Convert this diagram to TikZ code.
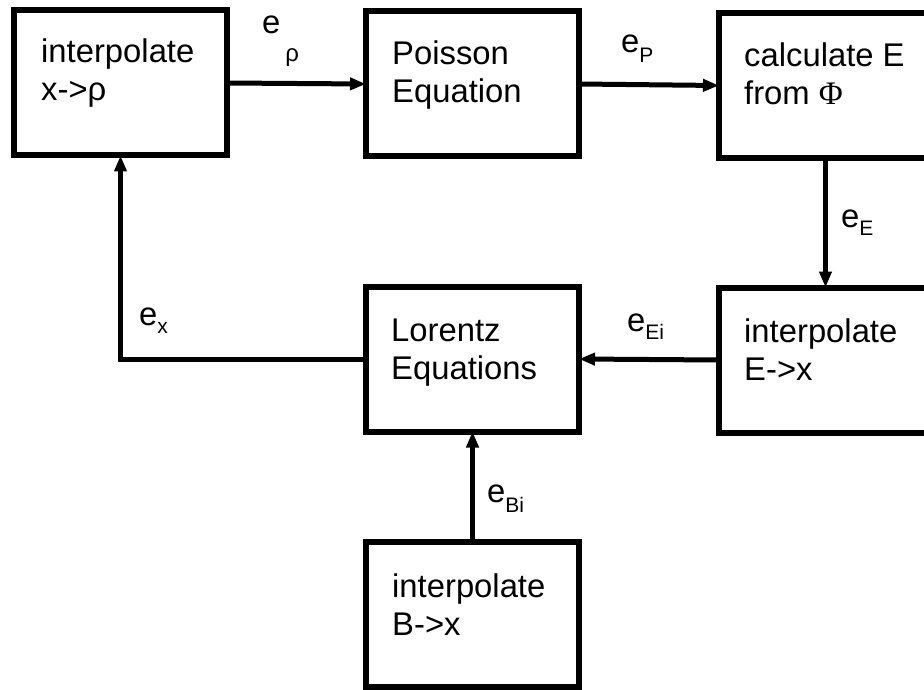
\documentclass[tikz,border=0pt]{standalone}
\usepackage{fontspec}
\setmainfont{Liberation Sans}
\newfontfamily\phifont{Liberation Serif}
\usetikzlibrary{arrows.meta,calc}
% two left-aligned lines whose baseline is that of the first line
\newcommand\twolines[2]{\begin{tabular}[t]{@{}l@{}}#1\\#2\end{tabular}}
% error symbol e with a lowered small subscript
\newcommand\esub[4][0pt]{e\hspace{#1}\raisebox{-#2}{\fontsize{#3}{#3}\selectfont #4}}
\begin{document}
\begin{tikzpicture}[x=1pt,y=-1pt,
  box/.style={draw,line width=6pt,minimum width=213pt,minimum height=145pt,
    inner sep=0pt,outer sep=0pt},
  boxtext/.style={anchor=base west,inner sep=0pt,
    font=\fontsize{32.8}{38}\selectfont},
  lbl/.style={anchor=base west,inner sep=0pt,
    font=\fontsize{32.8}{38}\selectfont},
  flow/.style={line width=5pt,line join=miter,
    -{Triangle[length=16pt,width=12pt]}}]
\useasboundingbox (0,0) rectangle (924,690);
\fill[white] (0,0) rectangle (924,690);
\clip (0,0) rectangle (924,690);

% blocks of the solver loop
\node[box] (interpRho) at (120.5,83)    {};
\node[box] (poisson)   at (472.5,84)    {};
\node[box] (calcE)     at (825.5,85.5)  {};
\node[box] (interpE)   at (825.5,360)   {};
\node[box] (lorentz)   at (472.5,359)   {};
\node[box] (interpB)   at (472.5,614.5) {};

% block texts
\node[boxtext] (tRho) at ($(interpRho.north west)+(27,52)$) {\twolines{interpolate}{x->ρ}};
\node[boxtext] (tPoi) at ($(poisson.north west)+(26,53)$)   {\twolines{Poisson}{Equation}};
\node[boxtext] (tCal) at ($(calcE.north west)+(25,54)$)     {\twolines{calculate E}{from {\phifont Φ}}};
\node[boxtext] (tIE)  at ($(interpE.north west)+(25,55)$)   {\twolines{interpolate}{E->x}};
\node[boxtext] (tLor) at ($(lorentz.north west)+(25,55)$)   {\twolines{Lorentz}{Equations}};
\node[boxtext] (tIB)  at ($(interpB.north west)+(26,55)$)   {\twolines{interpolate}{B->x}};

% data flow between the blocks
\draw[flow] (interpRho.east) -- (poisson.west);
\draw[flow] (poisson.east)   -- (calcE.west);
\draw[flow] (calcE.south)    -- (interpE.north);
\draw[flow] (interpE.west)   -- (lorentz.east);
\draw[flow] (interpB.north)  -- (lorentz.south);
\draw[flow] (lorentz.west)   -| (interpRho.south);

% error labels on the connectors
\node[lbl] (eRho) at (262,34)  {\esub[5pt]{28pt}{24}{ρ}};
\node[lbl] (eP)   at (621,53)  {\esub{10pt}{21}{P}};
\node[lbl] (eE)   at (841,227) {\esub{8pt}{21}{E}};
\node[lbl] (eEi)  at (627,331) {\esub{8pt}{21}{Ei}};
\node[lbl] (eX)   at (139,325) {\esub{8pt}{21}{x}};
\node[lbl] (eBi)  at (487,502) {\esub{10pt}{21}{Bi}};
\end{tikzpicture}
\end{document}
